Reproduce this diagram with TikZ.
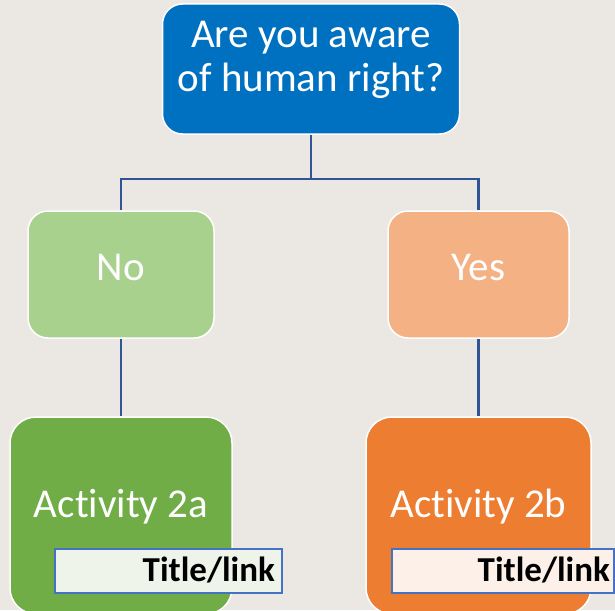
\documentclass[tikz,border=0pt]{standalone}
\usepackage{fontspec}
\setmainfont[Ligatures={NoCommon},RawFeature={-clig;-calt;-dlig}]{Carlito}
\definecolor{bgc}{HTML}{EBE8E4}
\definecolor{topc}{HTML}{0070C0}
\definecolor{noc}{HTML}{A9D18E}
\definecolor{yesc}{HTML}{F4B183}
\definecolor{actac}{HTML}{70AD47}
\definecolor{actbc}{HTML}{ED7D31}
\definecolor{linec}{HTML}{2F5597}
\definecolor{tbord}{HTML}{4472C4}
\definecolor{tfilla}{HTML}{EEF4EA}
\definecolor{tfillb}{HTML}{FDF0E9}
\tikzset{
  boxstyle/.style={draw=white, line width=1.5pt, rounded corners=20pt, inner sep=0pt},
  bigtext/.style={text=white, font=\fontsize{41}{44}\selectfont, align=center, inner sep=0pt},
  conn/.style={draw=linec, line width=2.3pt},
  titlebox/.style={draw=tbord, line width=2pt, inner sep=0pt},
  titletext/.style={font=\fontsize{35}{38}\selectfont\bfseries, text=black, anchor=base east, inner sep=0pt}
}
\begin{document}
\begin{tikzpicture}[x=1pt,y=-1pt]
\fill[bgc] (0,0) rectangle (615,610);
\useasboundingbox (0,0) rectangle (615,610);
% top box
\node[boxstyle, fill=topc, minimum width=297pt, minimum height=130pt] (top) at (311,69) {};
\node[bigtext] (toptext) at (311,60) {Are you aware\\of human right?};
% no / yes
\node[boxstyle, fill=noc, minimum width=186pt, minimum height=127pt] (no) at (121,274.5) {};
\node[bigtext] (notext) at (121,267) {No};
\node[boxstyle, fill=yesc, minimum width=181pt, minimum height=127pt] (yes) at (478.5,274.5) {};
\node[bigtext] (yestext) at (478.5,267) {Yes};
% activities
\begin{scope}
\clip (0,0) rectangle (615,610);
\node[boxstyle, rounded corners=26pt, fill=actac, minimum width=222pt, minimum height=197pt] (acta) at (121,515.5) {};
\node[boxstyle, rounded corners=26pt, fill=actbc, minimum width=225pt, minimum height=197pt] (actb) at (478.5,515.5) {};
\node[bigtext] (actatext) at (121,507) {Act\kern0pt ivity 2a};
\node[bigtext] (actbtext) at (478.5,507) {Act\kern0pt ivity 2b};
% title/link boxes
\node[titlebox, fill=tfilla, minimum width=227pt, minimum height=44pt] (ta) at (168.5,571) {};
\node[titletext] (tatext) at (275,581) {Title/link};
\node[titlebox, fill=tfillb, minimum width=222pt, minimum height=44pt] (tb) at (503,571) {};
\node[titletext] (tbtext) at (610,581) {Title/link};
\end{scope}
% connectors
\coordinate (mid) at (311,179);
\draw[conn] (top.south) -- (mid);
\draw[conn] (mid) -| (no.north);
\draw[conn] (mid) -| (yes.north);
\draw[conn] (no.south) -- (acta.north);
\draw[conn] (yes.south) -- (actb.north);
\end{tikzpicture}
\end{document}
